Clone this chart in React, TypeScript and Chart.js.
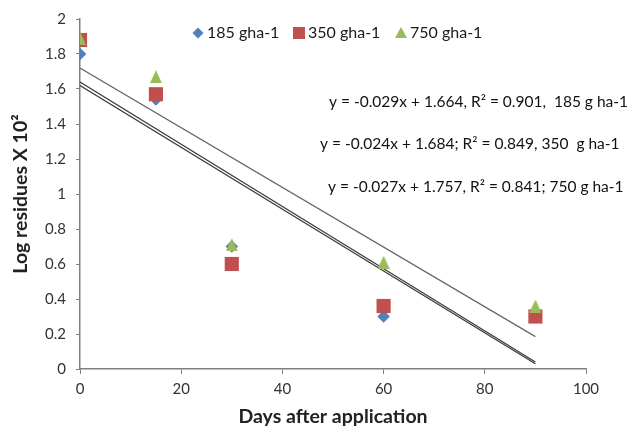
import { useEffect, useRef } from 'react';
import { Chart, registerables } from 'chart.js';

Chart.register(...registerables);

// ---- data ----
const days = [0, 15, 30, 60, 90];
const dose185 = [1.8, 1.54, 0.7, 0.3, 0.3];
const dose350 = [1.88, 1.57, 0.6, 0.36, 0.3];
const dose750 = [1.89, 1.67, 0.71, 0.61, 0.36];
const seriesLabels = ['185 gha-1', '350 gha-1', '750 gha-1'];

const trendDays = [0, 90];
const trend185 = [1.62, 0.03];
const trend350 = [1.64, 0.04];
const trend750 = [1.72, 0.185];

const equations = [
  'y = -0.029x + 1.664, R² = 0.901,  185 g ha-1',
  'y = -0.024x + 1.684; R² = 0.849, 350  g ha-1',
  'y = -0.027x + 1.757, R² = 0.841; 750 g ha-1',
];

const xTitle = 'Days after application';
const yTitle = 'Log residues X 10²';

const COLORS = ['#4F81BD', '#C0504D', '#9BBB59'];
const FONT = 'Lato, "Open Sans", sans-serif';

const toPts = (xs: number[], ys: number[]) => xs.map((x, i) => ({ x, y: ys[i] }));

function makeTriangle(w: number, h: number, color: string) {
  const c = document.createElement('canvas');
  c.width = Math.ceil(w);
  c.height = Math.ceil(h);
  const g = c.getContext('2d')!;
  g.fillStyle = color;
  g.beginPath();
  g.moveTo(c.width / 2, 0);
  g.lineTo(c.width, c.height);
  g.lineTo(0, c.height);
  g.closePath();
  g.fill();
  return c;
}

function drawMarker(ctx: CanvasRenderingContext2D, kind: number, x: number, y: number) {
  ctx.save();
  ctx.fillStyle = COLORS[kind];
  ctx.beginPath();
  if (kind === 0) {
    const r = 5.5;
    ctx.moveTo(x, y - r);
    ctx.lineTo(x + r, y);
    ctx.lineTo(x, y + r);
    ctx.lineTo(x - r, y);
    ctx.closePath();
  } else if (kind === 1) {
    const s = 6;
    ctx.rect(x - s, y - s, 2 * s, 2 * s);
  } else {
    ctx.moveTo(x, y - 6);
    ctx.lineTo(x + 6, y + 5);
    ctx.lineTo(x - 6, y + 5);
    ctx.closePath();
  }
  ctx.fill();
  ctx.restore();
}

const annotationPlugin = {
  id: 'annotations',
  afterDraw(chart: any) {
    const ctx: CanvasRenderingContext2D = chart.ctx;
    ctx.save();
    // legend
    const legendY = 33;
    const legendPos = [
      [198, 207],
      [299, 308],
      [401, 410],
    ];
    ctx.font = `16px ${FONT}`;
    ctx.textBaseline = 'middle';
    ctx.textAlign = 'left';
    seriesLabels.forEach((lab, i) => {
      drawMarker(ctx, i, legendPos[i][0], legendY);
      ctx.fillStyle = '#1a1a1a';
      ctx.fillText(lab, legendPos[i][1], legendY);
    });
    // equations
    ctx.font = `15.5px ${FONT}`;
    ctx.fillStyle = '#111';
    const eqPos = [
      [329, 102],
      [320, 144],
      [328, 187],
    ];
    equations.forEach((t, i) => {
      ctx.fillText(t, eqPos[i][0], eqPos[i][1]);
    });
    ctx.restore();
  },
};

export default function App() {
  const ref = useRef<HTMLCanvasElement>(null);
  useEffect(() => {
    document.body.style.margin = '0';
    const canvas = ref.current!;
    const tri = makeTriangle(12, 13, COLORS[2]);
    const chart = new Chart(canvas, {
      type: 'scatter',
      data: {
        datasets: [
          {
            label: seriesLabels[0],
            data: toPts(days, dose185),
            pointStyle: 'rectRot',
            pointRadius: 6.3,
            backgroundColor: COLORS[0],
            borderColor: COLORS[0],
            borderWidth: 0,
            order: 3,
          },
          {
            label: seriesLabels[1],
            data: toPts(days, dose350),
            pointStyle: 'rect',
            pointRadius: 10,
            backgroundColor: COLORS[1],
            borderColor: COLORS[1],
            borderWidth: 0,
            order: 2,
          },
          {
            label: seriesLabels[2],
            data: toPts(days, dose750),
            pointStyle: tri,
            pointRadius: 7,
            backgroundColor: COLORS[2],
            borderColor: COLORS[2],
            borderWidth: 0,
            order: 1,
          },
          {
            label: 'trend185',
            data: toPts(trendDays, trend185),
            showLine: true,
            pointRadius: 0,
            borderColor: '#3a3a3a',
            borderWidth: 1.2,
            order: 4,
          },
          {
            label: 'trend350',
            data: toPts(trendDays, trend350),
            showLine: true,
            pointRadius: 0,
            borderColor: '#3a3a3a',
            borderWidth: 1.2,
            order: 4,
          },
          {
            label: 'trend750',
            data: toPts(trendDays, trend750),
            showLine: true,
            pointRadius: 0,
            borderColor: '#666666',
            borderWidth: 1.2,
            order: 4,
          },
        ],
      },
      options: {
        responsive: false,
        animation: false,
        layout: { padding: { top: 17, right: 46, left: 0, bottom: 0 } },
        plugins: { legend: { display: false }, tooltip: { enabled: false } },
        scales: {
          x: {
            type: 'linear',
            min: 0,
            max: 100,
            afterFit: (s: any) => {
              s.height = 59;
            },
            ticks: {
              stepSize: 20,
              padding: 6,
              color: '#333',
              font: { family: FONT, size: 15 },
            },
            grid: { drawOnChartArea: false, drawTicks: true, tickLength: 5, color: '#808080' },
            border: { color: '#808080', width: 1.5 },
            title: {
              display: true,
              text: xTitle,
              color: '#222',
              font: { family: FONT, size: 19.5, weight: 'bold' },
              padding: { top: 0, bottom: 0 },
            },
          },
          y: {
            type: 'linear',
            min: 0,
            max: 2,
            afterFit: (s: any) => {
              s.width = 80;
            },
            ticks: {
              stepSize: 0.2,
              padding: 10,
              color: '#333',
              font: { family: FONT, size: 15 },
              callback: (v: any) => String(Math.round(Number(v) * 10) / 10),
            },
            grid: { drawOnChartArea: false, drawTicks: true, tickLength: 4, color: '#808080' },
            border: { color: '#808080', width: 1.5 },
            title: {
              display: true,
              text: yTitle,
              color: '#222',
              font: { family: FONT, size: 19.5, weight: 'bold' },
              padding: { top: 9, bottom: 0 },
            },
          },
        },
      } as any,
      plugins: [annotationPlugin],
    });
    return () => chart.destroy();
  }, []);
  return (
    <div style={{ width: 632, height: 428, background: '#fff' }}>
      <canvas ref={ref} width={632} height={428} />
    </div>
  );
}
